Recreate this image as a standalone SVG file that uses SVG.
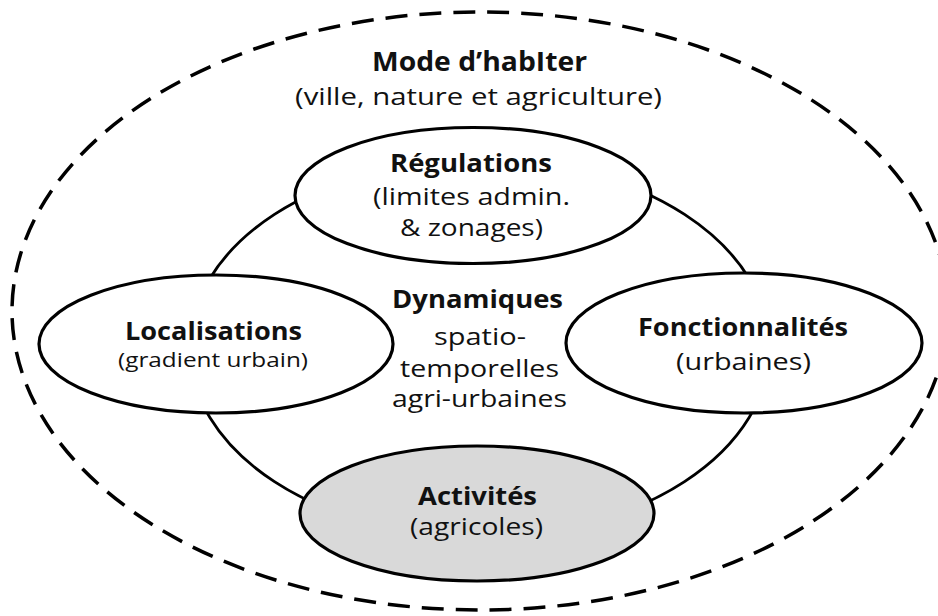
<svg xmlns="http://www.w3.org/2000/svg" width="938" height="616" viewBox="0 0 938 616">
<style>
text{font-family:"Open Sans","Noto Sans","DejaVu Sans",sans-serif;fill:#111;}
.b{font-weight:bold;font-size:25px;}
.r{font-size:23px;}
.s{font-size:20px;}
.node{fill:#fff;stroke:#000;stroke-width:3.2;}
.grey{fill:#d9d9d9;}
.ring{fill:none;stroke:#000;stroke-width:2.8;}
.outer{fill:none;stroke:#000;stroke-width:3.5;stroke-dasharray:22 12;}
</style>
<rect width="938" height="616" fill="#fff"/>
<g id="mode-habiter">
<ellipse class="outer" cx="480" cy="311" rx="468" ry="299"/>
<text class="b" x="372" y="71" style="font-size:26px" textLength="215" lengthAdjust="spacingAndGlyphs">Mode d’habIter</text>
<text class="r" x="295" y="105" textLength="367" lengthAdjust="spacingAndGlyphs">(ville, nature et agriculture)</text>
</g>
<g id="connectors">
<ellipse class="ring" cx="479.5" cy="348" rx="290" ry="189"/>
</g>
<g id="dynamiques">
<text class="b" x="392" y="308" textLength="171" lengthAdjust="spacingAndGlyphs">Dynamiques</text>
<text class="r" x="434" y="345" textLength="92" lengthAdjust="spacingAndGlyphs">spatio-</text>
<text class="r" x="400" y="377" textLength="159" lengthAdjust="spacingAndGlyphs">temporelles</text>
<text class="r" x="392" y="407" textLength="175" lengthAdjust="spacingAndGlyphs">agri-urbaines</text>
</g>
<g id="regulations">
<ellipse class="node" cx="473" cy="195.5" rx="178" ry="68"/>
<text class="b" x="390" y="172" textLength="162" lengthAdjust="spacingAndGlyphs">Régulations</text>
<text class="r" x="373" y="205" textLength="197" lengthAdjust="spacingAndGlyphs">(limites admin.</text>
<text class="r" x="400" y="236" textLength="143" lengthAdjust="spacingAndGlyphs">&amp; zonages)</text>
</g>
<g id="localisations">
<ellipse class="node" cx="216" cy="344" rx="177" ry="69"/>
<text class="b" x="125" y="340" textLength="177" lengthAdjust="spacingAndGlyphs">Localisations</text>
<text class="s" x="118" y="367" textLength="190" lengthAdjust="spacingAndGlyphs">(gradient urbain)</text>
</g>
<g id="fonctionnalites">
<ellipse class="node" cx="744" cy="343" rx="178" ry="70"/>
<text class="b" x="638" y="336" textLength="210" lengthAdjust="spacingAndGlyphs">Fonctionnalités</text>
<text class="r" x="676" y="370" textLength="135" lengthAdjust="spacingAndGlyphs">(urbaines)</text>
</g>
<g id="activites">
<ellipse class="node grey" cx="477" cy="513.5" rx="177" ry="67.5"/>
<text class="b" x="418" y="505" textLength="119" lengthAdjust="spacingAndGlyphs">Activités</text>
<text class="r" x="410" y="535" textLength="133" lengthAdjust="spacingAndGlyphs">(agricoles)</text>
</g>
</svg>
